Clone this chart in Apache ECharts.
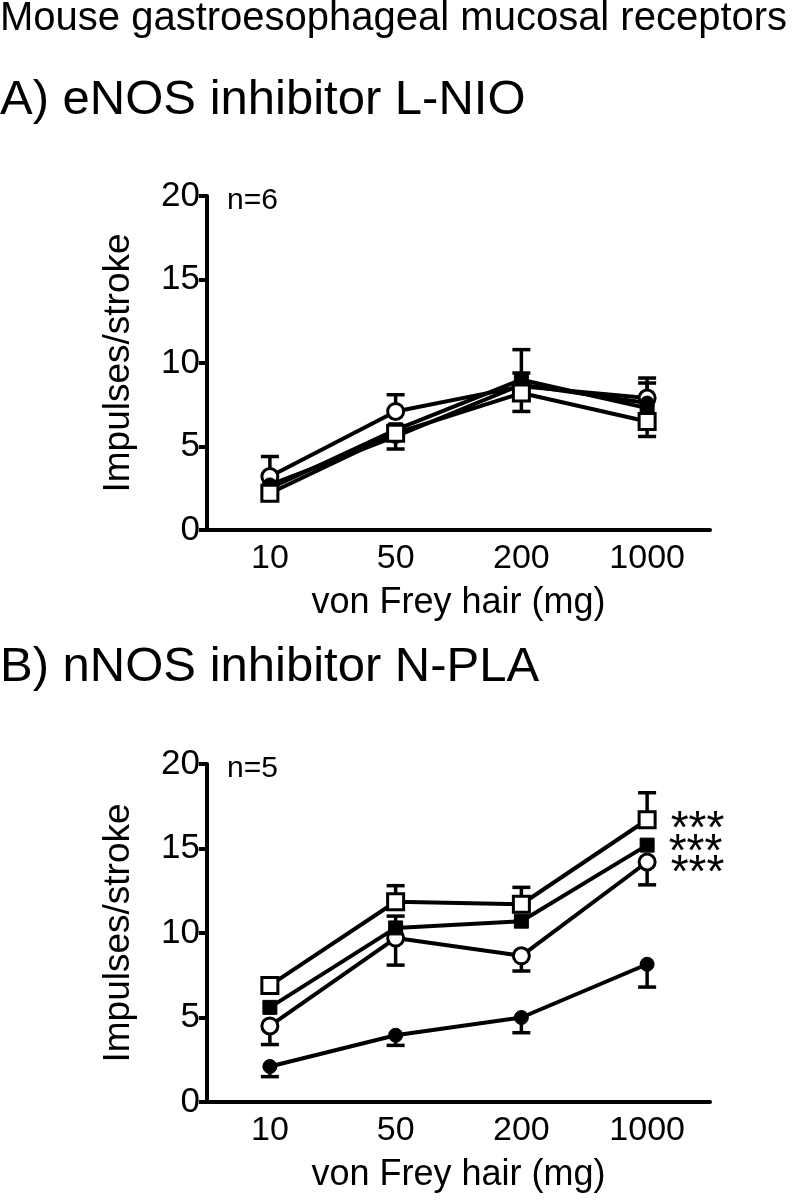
<!DOCTYPE html>
<html>
<head>
<meta charset="utf-8">
<script src="https://cdn.jsdelivr.net/npm/echarts@6/dist/echarts.min.js"></script>
<style>html,body{margin:0;padding:0;background:#fff}#c{width:796px;height:1200px}</style>
</head>
<body>
<div id="c"></div>
<script>
// ---- data ----
const categories = ['10', '50', '200', '1000'];
const yTicks = [0, 5, 10, 15, 20];

// Panel A: eNOS inhibitor L-NIO
const aOpenCircle   = [3.2, 7.1, 8.6, 7.9];
const aFilledCircle = [2.7, 5.6, 8.7, 7.6];
const aFilledSquare = [2.5, 6.0, 9.0, 7.3];
const aOpenSquare   = [2.2, 5.8, 8.2, 6.5];
const aOpenCircleErrUp   = [1.2, 1.0, 0.8, 1.2];
const aFilledCircleErrUp = [0, 0, 0, 1.2];
const aFilledSquareErrUp = [0, 0, 1.8, 0];
const aOpenSquareErrDn   = [0, 0.95, 1.1, 0.9];

// Panel B: nNOS inhibitor N-PLA
const bOpenSquare   = [6.9, 11.85, 11.7, 16.7];
const bFilledSquare = [5.6, 10.3, 10.7, 15.2];
const bOpenCircle   = [4.5, 9.7, 8.65, 14.2];
const bFilledCircle = [2.1, 3.95, 5.0, 8.15];
const bOpenSquareErrUp   = [0, 0.95, 1.0, 1.6];
const bFilledSquareErrUp = [0, 0.7, 0, 0];
const bOpenCircleErrDn   = [1.1, 1.6, 0.9, 1.35];
const bFilledCircleErrDn = [0.6, 0.6, 0.9, 1.35];
const bSignificance = ['***', '***', '***']; // open square, filled square, open circle at 1000 mg

// ---- chart ----
const FONT = 'Liberation Sans, Arial, Helvetica, sans-serif';
const chart = echarts.init(document.getElementById('c'), null, {renderer: 'canvas'});

function errSeries(idx, means, up, dn) {
  const data = means.map((m, i) => [i, m, up ? up[i] : 0, dn ? dn[i] : 0]);
  return {
    type: 'custom', xAxisIndex: idx, yAxisIndex: idx, z: 1, silent: true,
    data: data,
    renderItem: function (params, api) {
      const x = api.value(0), m = api.value(1), u = api.value(2), d = api.value(3);
      const children = [];
      const c = api.coord([x, m]);
      const hw = 9;
      const st = {stroke: '#000', lineWidth: 3.5};
      if (u > 0) {
        const t = api.coord([x, m + u]);
        children.push({type: 'line', shape: {x1: c[0], y1: c[1], x2: t[0], y2: t[1]}, style: st});
        children.push({type: 'line', shape: {x1: t[0] - hw, y1: t[1], x2: t[0] + hw, y2: t[1]}, style: st});
      }
      if (d > 0) {
        const b = api.coord([x, m - d]);
        children.push({type: 'line', shape: {x1: c[0], y1: c[1], x2: b[0], y2: b[1]}, style: st});
        children.push({type: 'line', shape: {x1: b[0] - hw, y1: b[1], x2: b[0] + hw, y2: b[1]}, style: st});
      }
      return {type: 'group', children: children};
    }
  };
}

function lineSeries(idx, values, kind, sig, dy) {
  const open = kind.indexOf('open') === 0;
  const circle = kind.indexOf('Circle') > 0;
  return {
    type: 'line', xAxisIndex: idx, yAxisIndex: idx, z: 3,
    data: values.map((v, i) => {
      const o = {value: v};
      if (sig && i === values.length - 1) {
        o.label = {show: true, formatter: sig, position: 'right', distance: 14,
          color: '#000', fontSize: 46, fontFamily: FONT, offset: [0, 12 + (dy || 0)]};
      }
      return o;
    }),
    symbol: circle ? 'circle' : 'rect',
    symbolSize: open ? 16 : 14,
    showSymbol: true,
    lineStyle: {color: '#000', width: 4},
    itemStyle: open ? {color: '#fff', borderColor: '#000', borderWidth: 3}
                    : {color: '#000', borderColor: '#000', borderWidth: 1},
    emphasis: {disabled: true},
    animation: false
  };
}

function xAxis(idx) {
  return {
    type: 'category', gridIndex: idx, data: categories, boundaryGap: true,
    axisLine: {lineStyle: {color: '#000', width: 4}},
    axisTick: {alignWithLabel: true, length: 9, lineStyle: {color: '#000', width: 4}},
    axisLabel: {color: '#000', fontSize: 34, fontFamily: FONT, margin: 12},
    name: 'von Frey hair (mg)', nameLocation: 'middle', nameGap: 55,
    nameTextStyle: {color: '#000', fontSize: 36, fontFamily: FONT},
    splitLine: {show: false}
  };
}
function yAxis(idx) {
  return {
    type: 'value', gridIndex: idx, min: yTicks[0], max: yTicks[yTicks.length - 1], interval: 5,
    axisLine: {show: true, lineStyle: {color: '#000', width: 4}},
    axisTick: {show: true, length: 8, lineStyle: {color: '#000', width: 4}},
    axisLabel: {color: '#000', fontSize: 35, fontFamily: FONT, margin: 7},
    name: 'Impulses/stroke', nameLocation: 'middle', nameGap: 70,
    nameTextStyle: {color: '#000', fontSize: 37, fontFamily: FONT},
    splitLine: {show: false}
  };
}

const T = (text, left, top, size) => ({text: text, left: left, top: top, padding: 0,
  textStyle: {color: '#000', fontSize: size, fontWeight: 'normal', fontFamily: FONT}});

const option = {
  animation: false,
  backgroundColor: '#fff',
  title: [
    T('Mouse gastroesophageal mucosal receptors', 0, -1, 40),
    T('A) eNOS inhibitor L-NIO', 0, 76, 49),
    T('B) nNOS inhibitor N-PLA', 0, 643, 49),
    T('n=6', 227, 186, 30),
    T('n=5', 227, 754, 30)
  ],
  grid: [
    {left: 207, top: 196, width: 503, height: 334},
    {left: 207, top: 764, width: 503, height: 338}
  ],
  xAxis: [xAxis(0), xAxis(1)],
  yAxis: [yAxis(0), yAxis(1)],
  series: [
    errSeries(0, aOpenCircle, aOpenCircleErrUp, null),
    errSeries(0, aFilledCircle, aFilledCircleErrUp, null),
    errSeries(0, aFilledSquare, aFilledSquareErrUp, null),
    errSeries(0, aOpenSquare, null, aOpenSquareErrDn),
    lineSeries(0, aOpenCircle, 'openCircle'),
    lineSeries(0, aFilledCircle, 'filledCircle'),
    lineSeries(0, aFilledSquare, 'filledSquare'),
    lineSeries(0, aOpenSquare, 'openSquare'),

    errSeries(1, bOpenSquare, bOpenSquareErrUp, null),
    errSeries(1, bFilledSquare, bFilledSquareErrUp, null),
    errSeries(1, bOpenCircle, null, bOpenCircleErrDn),
    errSeries(1, bFilledCircle, null, bFilledCircleErrDn),
    lineSeries(1, bFilledCircle, 'filledCircle'),
    lineSeries(1, bOpenCircle, 'openCircle', bSignificance[2], 0),
    lineSeries(1, bFilledSquare, 'filledSquare', bSignificance[1], -4),
    lineSeries(1, bOpenSquare, 'openSquare', bSignificance[0], -1)
  ]
};
chart.setOption(option);
</script>
</body>
</html>
